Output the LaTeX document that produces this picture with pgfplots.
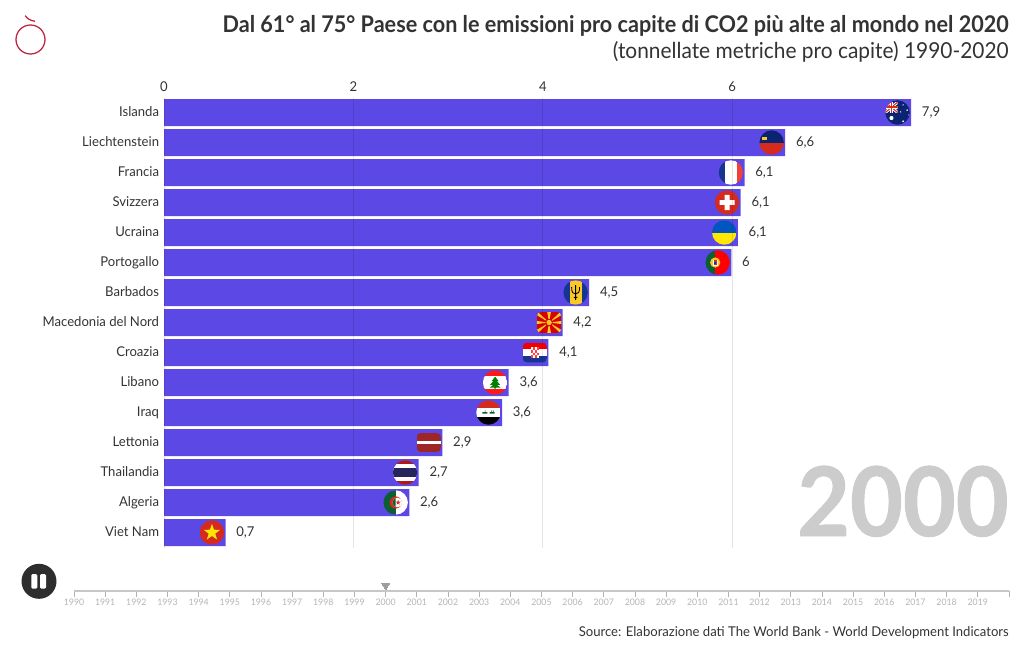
\documentclass[border=0pt]{standalone}
\usepackage{fontspec}
\setmainfont{Lato}[FakeStretch=0.97]
\newfontfamily\ttlf{Lato}[FakeStretch=0.94]
\newfontfamily\subf{Lato}[FakeStretch=0.95]
\newfontfamily\yearf{Lato}[FakeStretch=0.95,FakeBold=1]
\usepackage{pgfplots}
\pgfplotsset{compat=1.18}
\usetikzlibrary{shapes.geometric}
\definecolor{barc}{HTML}{5C48E4}
\definecolor{txt}{HTML}{333333}
\definecolor{tl}{HTML}{B4B4B4}
\definecolor{logo}{HTML}{C0213F}
\definecolor{fnavy}{HTML}{0A2472}
\definecolor{fblue}{HTML}{15358F}
\definecolor{fred}{HTML}{D52B1E}
\definecolor{fredb}{HTML}{EF4135}
\definecolor{fgreen}{HTML}{0B5F33}
\definecolor{fyel}{HTML}{FBC926}
\newcommand{\fpx}[1]{\fontsize{\fpeval{#1*0.75}pt}{\fpeval{#1*0.9}pt}\selectfont}
\newcommand{\flagat}[3]{\node[inner sep=0pt,outer sep=0pt,xshift=-10.2pt] at (axis cs:#1,#2) {\tikz[x=9.15pt,y=9.15pt,line cap=butt]{\useasboundingbox (-1,-1) rectangle (1,1); #3}};}
\newcommand{\cc}{\clip (0,0) circle (1);}
\newcommand{\rc}[1]{\clip[rounded corners=3pt] (-1,-#1) rectangle (1,#1);}
\begin{document}
\begin{tikzpicture}
\useasboundingbox (0,0) rectangle (765pt,-487.5pt);
\begin{axis}[
  at={(123pt,-410.625pt)}, anchor=south west,
  scale only axis, width=633.75pt, height=337.5pt,
  xmin=0, xmax=8.923, ymin=-0.5, ymax=14.5, y dir=reverse,
  xbar, bar width=20.25pt, bar shift=0pt,
  axis on top, clip=false,
  axis line style={draw=none}, tick style={draw=none},
  xtick={0,2,4,6}, ytick={0,...,14},
  xticklabel pos=top,
  xmajorgrids, major grid style={black,opacity=0.1,line width=0.75pt},
  yticklabels={Islanda,Liechtenstein,Francia,Svizzera,Ucraina,Portogallo,Barbados,Macedonia del Nord,Croazia,Libano,Iraq,Lettonia,Thailandia,Algeria,Viet Nam},
  tick label style={font=\fpx{13.5},text=txt},
  x tick label style={inner sep=0pt,yshift=4pt,/pgf/number format/assume math mode=true},
  y tick label style={inner sep=0pt,anchor=base east,xshift=0.75pt,yshift=-2.9pt},
  point meta=x,
  nodes near coords,
  nodes near coords style={font=\fpx{13.5},text=txt,inner sep=0pt,anchor=base west,xshift=7.9pt,yshift=-2.9pt,
    /pgf/number format/.cd,fixed,precision=1,use comma,1000 sep={},assume math mode=true},
]
\addplot[draw=none,fill=barc] coordinates {
 (7.89,0) (6.56,1) (6.13,2) (6.09,3) (6.06,4) (5.99,5) (4.49,6) (4.21,7)
 (4.06,8) (3.64,9) (3.57,10) (2.94,11) (2.69,12) (2.59,13) (0.65,14)};
% Australia
\flagat{7.89}{0}{\cc \fill[fnavy] (-1,-1) rectangle (1,1);
  \begin{scope}\clip (-1,0) rectangle (0,0.85); \fill[fnavy] (-1,0) rectangle (0,.85);
  \draw[white,line width=2.2pt] (-1,0)--(0,.85) (-1,.85)--(0,0); \draw[fred,line width=.8pt] (-1,0)--(0,.85) (-1,.85)--(0,0);
  \draw[white,line width=2.6pt] (-.5,0)--(-.5,.85) (-1,.42)--(0,.42); \draw[fred,line width=1.4pt] (-.5,0)--(-.5,.85) (-1,.42)--(0,.42);\end{scope}
  \fill[white] (-.5,-.45) circle (.17) (.45,.62) circle (.06) (.78,.2) circle (.07) (.25,.05) circle (.06) (.45,-.72) circle (.08) (.9,-.2) circle (.04);}
% Liechtenstein
\flagat{6.56}{1}{\cc \fill[fnavy] (-1,0) rectangle (1,1); \fill[fred] (-1,-1) rectangle (1,0);
  \fill[fyel] (-.75,.2) rectangle (-.42,.42);}
% France
\flagat{6.13}{2}{\cc \fill[fblue] (-1,-1) rectangle (-.5,1); \fill[white] (-.5,-1) rectangle (.47,1); \fill[fredb] (.47,-1) rectangle (1,1);}
% Switzerland
\flagat{6.09}{3}{\cc \fill[fred] (-1,-1) rectangle (1,1); \fill[white] (-.62,-.2) rectangle (.62,.2) (-.2,-.62) rectangle (.2,.62);}
% Ukraine
\flagat{6.06}{4}{\cc \fill[blue!55!cyan!75!black] (-1,0) rectangle (1,1); \fill[yellow!90!orange] (-1,-1) rectangle (1,0);}
% Portugal
\flagat{5.99}{5}{\cc \fill[fgreen] (-1,-1) rectangle (-.2,1); \fill[red] (-.2,-1) rectangle (1,1);
  \fill[fyel] (-.2,0) circle (.42); \fill[white] (-.4,-.26) rectangle (0,.24); \fill[fred] (-.33,-.2) rectangle (-.07,.18); \fill[fblue] (-.26,-.1) rectangle (-.14,.08);}
% Barbados
\flagat{4.49}{6}{\cc \fill[fblue] (-1,-1) rectangle (1,1); \fill[fyel] (-.5,-1) rectangle (.5,1);
  \draw[black,line width=.6pt] (0,-.6)--(0,.6) (-.33,.45) .. controls (-.33,0) and (-.2,-.12) .. (0,-.12) .. controls (.2,-.12) and (.33,0) .. (.33,.45) (-.14,-.4)--(.14,-.4);}
% North Macedonia
\flagat{4.21}{7}{\rc{.85} \fill[red!85!black] (-1,-1) rectangle (1,1);
  \foreach \a/\d in {0/7,90/10,180/7,270/10,37/6,143/6,217/6,323/6}{\fill[fyel] (0,0)--(\a-\d:1.5)--(\a+\d:1.5)--cycle;}
  \fill[red!85!black] (0,0) circle (.3); \fill[fyel] (0,0) circle (.22);}
% Croatia
\flagat{4.06}{8}{\rc{.8} \fill[red!95!black] (-1,.27) rectangle (1,1); \fill[white] (-1,-.27) rectangle (1,.27); \fill[fblue] (-1,-1) rectangle (1,-.27);
  \fill[white] (-.3,-.45) rectangle (.3,.42);
  \foreach \i in {0,1,2,3}{\foreach \j in {0,1,2,3}{\pgfmathparse{int(mod(\i+\j,2))}\ifnum\pgfmathresult=0 \fill[red!75!white] ({-.3+.15*\i},{-.45+.217*\j}) rectangle ++(.15,.217);\fi}}}
% Lebanon
\flagat{3.64}{9}{\cc \fill[red!90!white] (-1,-1) rectangle (1,1); \fill[white] (-1,-.52) rectangle (1,.52);
  \fill[green!50!black] (0,.48)--(.28,.12)--(.14,.12)--(.42,-.2)--(.16,-.2)--(.45,-.42)--(.06,-.42)--(.06,-.5)--(-.06,-.5)--(-.06,-.42)--(-.45,-.42)--(-.16,-.2)--(-.42,-.2)--(-.14,.12)--(-.28,.12)--cycle;}
% Iraq
\flagat{3.57}{10}{\cc \fill[fred] (-1,.33) rectangle (1,1); \fill[white] (-1,-.33) rectangle (1,.33); \fill[black] (-1,-1) rectangle (1,-.33);
  \fill[fgreen] (-.5,-.1) rectangle (-.1,.03) (.1,-.1) rectangle (.5,.03) (.24,.03) rectangle (.3,.18) (.38,.03) rectangle (.43,.18) (-.3,.03) rectangle (-.25,.18);}
% Latvia
\flagat{2.94}{11}{\rc{.77} \fill[red!55!black!85!white] (-1,-1) rectangle (1,1); \fill[white] (-1,-.15) rectangle (1,.15);}
% Thailand
\flagat{2.69}{12}{\cc \fill[red!65!black!90!white] (-1,-1) rectangle (1,1); \fill[white] (-1,-.66) rectangle (1,.66); \fill[blue!25!black!85!white] (-1,-.33) rectangle (1,.33);}
% Algeria
\flagat{2.59}{13}{\cc \fill[fgreen] (-1,-1) rectangle (0,1); \fill[white] (0,-1) rectangle (1,1);
  \fill[fred] (0,0) circle (.5); \fill[white] (.14,0) circle (.4);
  \begin{scope}\clip (-1,-1) rectangle (0,1); \fill[fgreen] (.14,0) circle (.4);\end{scope}
  \node[star,star points=5,star point ratio=2.4,fill=fred,inner sep=0pt,minimum size=4pt] at (.2,0) {};}
% Viet Nam
\flagat{0.65}{14}{\cc \fill[fred] (-1,-1) rectangle (1,1);
  \node[star,star points=5,star point ratio=2.5,fill=yellow!90!orange,inner sep=0pt,minimum size=13pt] at (0,0) {};}
\end{axis}
% timeline
\begin{axis}[
  at={(55.5pt,-443.3pt)}, anchor=south west,
  scale only axis, width=701.25pt, height=10pt,
  xmin=1990, xmax=2020, ymin=0, ymax=1,
  axis x line=bottom, axis y line=none,
  axis line style={draw=black!22,line width=0.9pt,-},
  xtick={1990,...,2020},
  xticklabels={1990,1991,1992,1993,1994,1995,1996,1997,1998,1999,2000,2001,2002,2003,2004,2005,2006,2007,2008,2009,2010,2011,2012,2013,2014,2015,2016,2017,2018,2019,{}},
  major tick length=4.5pt, tick align=outside,
  tick style={draw=black!30,line width=0.5pt},
  x tick label style={font=\fpx{9},text=tl,inner sep=0pt,yshift=-1.5pt},
  clip=false,
]
\addplot[only marks,mark=triangle*,mark size=3.4pt,color=black!38,mark options={rotate=180,fill=black!38,draw=black!38,line width=0pt},yshift=4.3pt] coordinates {(2000,0)};
\end{axis}
\begin{scope}[x=0.75pt,y=-0.75pt]
\node[anchor=base east,inner sep=0pt,text=txt,font=\fpx{23}\ttlf\bfseries] at (1009,32) {Dal 61° al 75° Paese con le emissioni pro capite di CO2 più alte al mondo nel 2020};
\node[anchor=base east,inner sep=0pt,text=txt,font=\fpx{22}\subf] at (1009,58) {(tonnellate metriche pro capite) 1990-2020};
\node[anchor=base east,inner sep=0pt,text=txt,font=\fpx{13.5}] at (1009,636) {Source: Elaborazione dati The World Bank - World Development Indicators};
\node[anchor=base east,inner sep=0pt,text=black!20,font=\fpx{96}\yearf\bfseries] at (1009,536) {2000};
\fill[black!82] (39,581.3) circle (17.5);
\fill[white,rounded corners=1pt] (31.3,574) rectangle (37.3,588.7);
\fill[white,rounded corners=1pt] (40,574) rectangle (46,588.7);
\draw[logo,line width=0.95pt] (30.5,39.5) circle (14.5);
\draw[logo,line width=0.95pt] (25.2,15.6) .. controls (27,18.5) and (30,20.5) .. (35,21.3);
\end{scope}
\end{tikzpicture}
\end{document}
